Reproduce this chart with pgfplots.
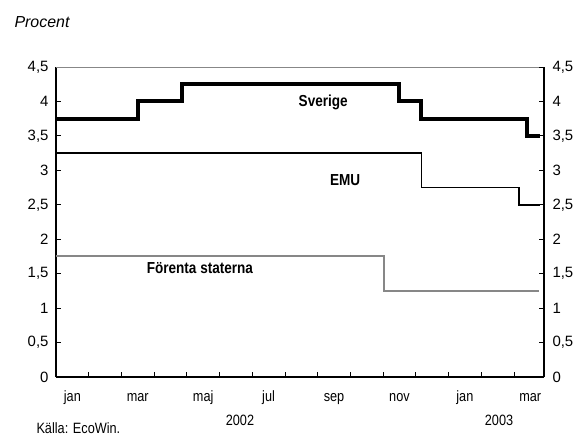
\documentclass[border=0pt]{standalone}
\usepackage{fontspec}
\setmainfont{Liberation Sans}[FakeStretch=0.85]
\newfontfamily\plainfont{Liberation Sans}
\usepackage{pgfplots}
\pgfplotsset{compat=1.18}
\definecolor{usgray}{RGB}{135,135,135}
\newcommand{\fs}{\fontsize{15}{17}\selectfont}
\newcommand{\fb}{\fontsize{16}{18}\selectfont\bfseries}
\newcommand{\ft}{\plainfont\fontsize{15}{17}\selectfont}
\begin{document}
\begin{tikzpicture}
\useasboundingbox (-56bp,-59bp) rectangle (523bp,377bp);
\begin{axis}[
  at={(0,0)}, anchor=origin,
  scale only axis, width=488bp, height=310bp,
  xmin=0, xmax=14.92, ymin=0, ymax=4.5,
  axis x line*=bottom, axis y line*=left,
  axis line style={line width=1.5bp, -},
  xtick={1,...,14}, xticklabels={},
  extra x ticks={0.5,2.5,4.5,6.5,8.5,10.5,12.5,14.5},
  extra x tick labels={jan,mar,maj,jul,sep,nov,jan,mar},
  extra x tick style={major tick length=0pt},
  ytick={0,0.5,...,4.5},
  tick align=inside, major tick length=5bp,
  tick style={black, line width=0.8bp},
  /pgf/number format/use comma,
  /pgf/number format/assume math mode=true,
  yticklabel style={/pgf/number format/fixed, /pgf/number format/precision=1, font=\ft, xshift=-4bp},
  xticklabel style={font=\fs, anchor=base, yshift=-24bp},
  clip=false,
]
\addplot[const plot, black, line width=4bp] coordinates {
 (0,3.75) (2.5,4.0) (3.85,4.25) (10.5,4.0) (11.17,3.75) (14.4,3.5) (14.8,3.5)};
\addplot[const plot, black, line width=1.6bp] coordinates {
 (0,3.25) (11.17,2.75) (14.15,2.5) (14.8,2.5)};
\addplot[const plot, usgray, line width=2bp] coordinates {
 (0,1.75) (10.03,1.25) (14.77,1.25)};
\draw[usgray, line width=0.8bp] (rel axis cs:0,1) -- (rel axis cs:1,1);
\node[font=\fb] at (axis cs:8.17,3.99) {Sverige};
\node[font=\fb] at (axis cs:8.84,2.86) {EMU};
\node[font=\fb] at (axis cs:4.4,1.58) {Förenta staterna};
\end{axis}
\begin{axis}[
  at={(0,0)}, anchor=origin,
  scale only axis, width=488bp, height=310bp,
  xmin=0, xmax=14.92, ymin=0, ymax=4.5,
  axis x line=none, axis y line*=right,
  axis line style={line width=1.5bp, -},
  ytick={0,0.5,...,4.5},
  tick align=inside, major tick length=5bp,
  tick style={black, line width=0.8bp},
  /pgf/number format/use comma,
  /pgf/number format/assume math mode=true,
  yticklabel style={/pgf/number format/fixed, /pgf/number format/precision=1, font=\ft, xshift=5bp},
]
\end{axis}
\node[font=\plainfont\itshape\fontsize{16}{18}\selectfont, anchor=west] at (-45bp,355bp) {Procent};
\node[font=\fs] at (184bp,-43bp) {2002};
\node[font=\fs] at (443bp,-43bp) {2003};
\node[font=\fs, anchor=west] at (-23bp,-51bp) {Källa: EcoWin.};
\end{tikzpicture}
\end{document}
